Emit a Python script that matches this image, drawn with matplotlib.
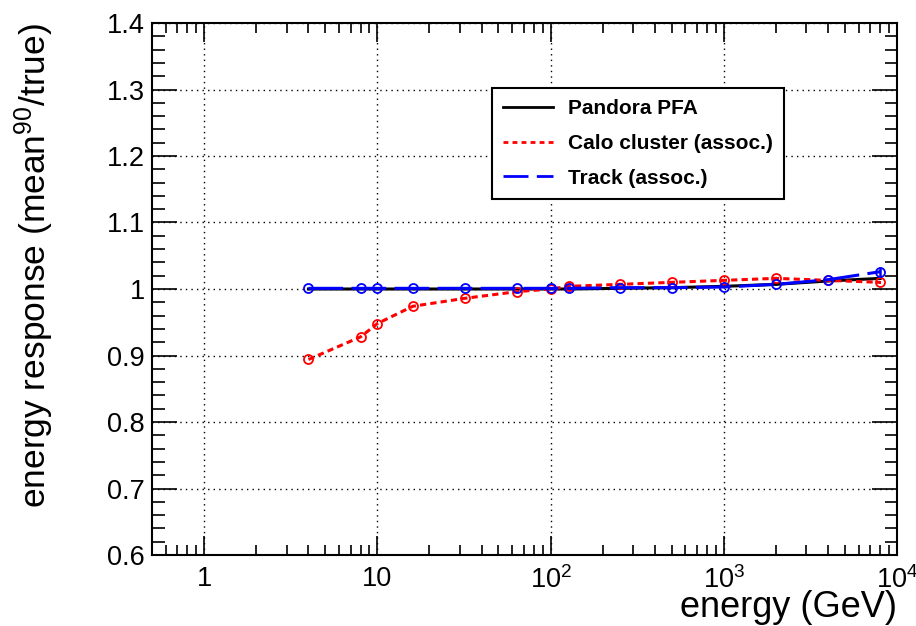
import numpy as np
import matplotlib
matplotlib.use('Agg')
import matplotlib.pyplot as plt
from matplotlib.lines import Line2D
from matplotlib.ticker import FixedLocator, FixedFormatter, LogLocator, MultipleLocator, NullFormatter

plt.rcParams['font.family'] = ['Liberation Sans', 'DejaVu Sans']
plt.rcParams['mathtext.fontset'] = 'custom'
plt.rcParams['mathtext.rm'] = 'Liberation Sans'
plt.rcParams['mathtext.it'] = 'Liberation Sans:italic'
plt.rcParams['lines.scale_dashes'] = False

# energies (GeV)
energy = [4, 8, 10, 16, 32, 64, 100, 128, 250, 500, 1000, 2000, 4000, 8000]

# mean90/true response
pandora = [1.000, 1.000, 1.000, 1.000, 1.000, 1.000, 1.000, 1.000, 1.001, 1.002, 1.004, 1.007, 1.012, 1.016]
pandora_err = [0, 0, 0, 0, 0, 0, 0, 0, 0, 0, 0, 0, 0.001, 0.003]
calo = [0.894, 0.928, 0.948, 0.974, 0.986, 0.996, 1.000, 1.004, 1.007, 1.010, 1.013, 1.016, 1.013, 1.010]
calo_err = [0, 0, 0, 0, 0, 0, 0, 0, 0, 0, 0, 0, 0.001, 0.002]
track = [1.001, 1.001, 1.001, 1.001, 1.001, 1.001, 1.001, 1.001, 1.002, 1.002, 1.003, 1.007, 1.014, 1.026]
track_err = [0, 0, 0, 0, 0, 0, 0, 0, 0, 0, 0, 0.001, 0.002, 0.007]

labels = ['Pandora PFA', 'Calo cluster (assoc.)', 'Track (assoc.)']
xticks = [1, 10, 100, 1000, 10000]
xticklabels = ['1', '10', '$10^{2}$', '$10^{3}$', '$10^{4}$']
yticks = [0.6, 0.7, 0.8, 0.9, 1.0, 1.1, 1.2, 1.3, 1.4]
yticklabels = ['0.6', '0.7', '0.8', '0.9', '1', '1.1', '1.2', '1.3', '1.4']

RED_DASH = (4.5, 3)
BLUE_DASH = (25, 6)

fig = plt.figure(figsize=(9.16, 6.26), dpi=100)
ax = fig.add_axes([152/916, 1-555/626, (897-152)/916, (555-23)/626])

l1 = ax.errorbar(energy, pandora, yerr=pandora_err, color='black', lw=2.2,
                 capsize=0, elinewidth=1.5)
l2 = ax.errorbar(energy, calo, yerr=calo_err, color='#ff0000', lw=2.2,
                 marker='o', ms=6.5, mfc='none', mec='#ff0000', mew=1.3,
                 capsize=0, elinewidth=1.5)
l2[0].set_dashes(RED_DASH)
l3 = ax.errorbar(energy, track, yerr=track_err, color='#0000ff', lw=2.2,
                 marker='o', ms=6.5, mfc='none', mec='#0000ff', mew=1.3,
                 capsize=0, elinewidth=1.8)
l3[0].set_dashes(BLUE_DASH)

ax.set_xscale('log')
ax.set_xlim(0.5, 10000)
ax.set_ylim(0.6, 1.4)

ax.xaxis.set_major_locator(FixedLocator(xticks))
ax.xaxis.set_major_formatter(FixedFormatter(xticklabels))
ax.xaxis.set_minor_locator(LogLocator(base=10, subs=np.arange(2, 10)))
ax.xaxis.set_minor_formatter(NullFormatter())
ax.set_yticks(yticks)
ax.set_yticklabels(yticklabels)
ax.yaxis.set_minor_locator(MultipleLocator(0.02))

ax.tick_params(axis='both', which='both', direction='in', top=True, right=True,
               labelsize=19.5, width=1.2, colors='black')
ax.tick_params(axis='x', which='major', length=14, pad=8)
ax.tick_params(axis='x', which='minor', length=7)
ax.tick_params(axis='y', which='major', length=18, pad=5)
ax.tick_params(axis='y', which='minor', length=9)
for s in ax.spines.values():
    s.set_linewidth(1.5)

ax.grid(True, which='major', color='black', linestyle=(0, (1, 3)), linewidth=1.0)

ax.set_xlabel('energy (GeV)', fontsize=26, loc='right')
ax.xaxis.set_label_coords(1.0, -0.066)
ax.set_ylabel('energy response (mean$^{90}$/true)', fontsize=25.5, loc='top')
ax.yaxis.set_label_coords(-0.129, 1.0)

# legend shows plain line samples, no markers
h1 = Line2D([], [], color='black', lw=2)
h2 = Line2D([], [], color='#ff0000', lw=2, dashes=(3.5, 3))
h3 = Line2D([], [], color='#0000ff', lw=2, dashes=(18, 6))
leg = ax.legend(handles=[h1, h2, h3], labels=labels,
                loc='upper left', bbox_to_anchor=(492/916, 1-88/626),
                bbox_transform=fig.transFigure, borderaxespad=0,
                prop={'weight': 'bold', 'size': 15}, fancybox=False,
                framealpha=1, edgecolor='black', handlelength=2.4,
                handletextpad=0.7, labelspacing=0.75, borderpad=0.55)
leg.get_frame().set_linewidth(1.5)

fig.savefig('out.png', dpi=100)
